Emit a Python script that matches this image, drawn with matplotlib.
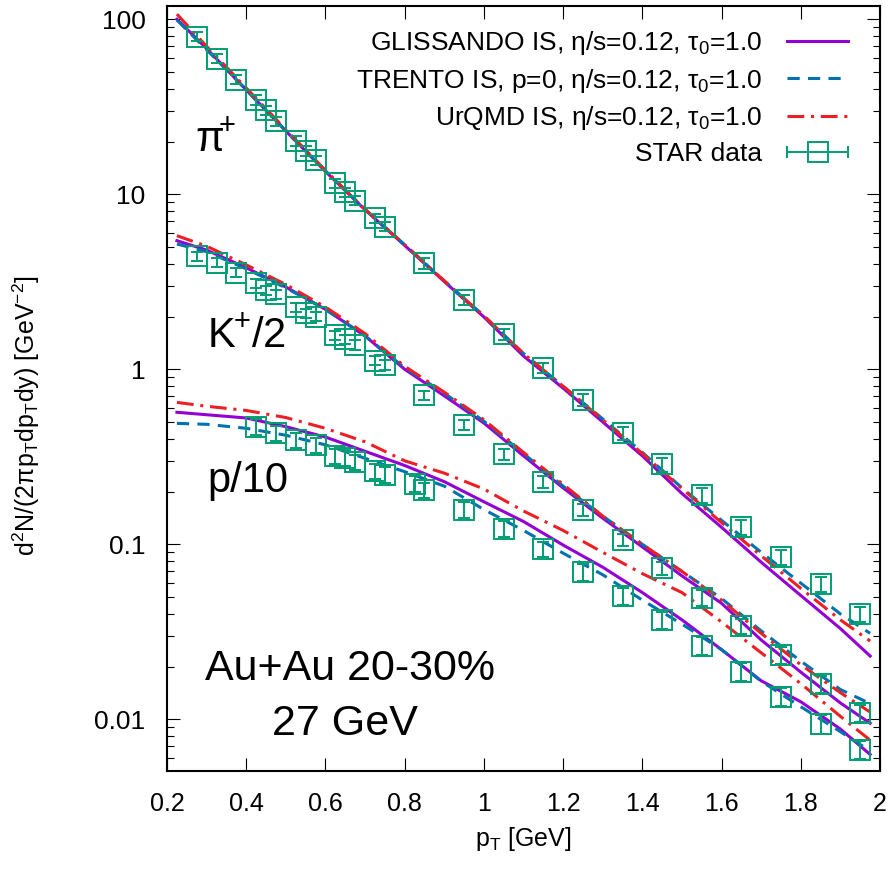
import matplotlib
matplotlib.use("Agg")
import matplotlib.pyplot as plt
from matplotlib.lines import Line2D
from matplotlib.legend_handler import HandlerBase
from matplotlib.ticker import FixedLocator, LogLocator, NullFormatter, NullLocator

plt.rcParams['font.family'] = ['Liberation Sans', 'DejaVu Sans']
plt.rcParams['mathtext.fontset'] = 'custom'
plt.rcParams['mathtext.rm'] = 'Liberation Sans'
plt.rcParams['mathtext.it'] = 'Liberation Sans:italic'
plt.rcParams['mathtext.bf'] = 'Liberation Sans:bold'

# STAR data (pions, kaons/2, protons/10)
pt_pi = [0.275, 0.325, 0.375, 0.425, 0.45, 0.475, 0.525, 0.55, 0.575, 0.625, 0.65, 0.675,
         0.725, 0.75, 0.85, 0.95, 1.05, 1.15, 1.25, 1.35, 1.45, 1.55, 1.65, 1.75, 1.85, 1.95]
y_pi = [79.6, 59.6, 45.2, 34.6, 30.3, 26.2, 20.2, 17.7, 15.6, 11.6, 10.3, 9.19,
        7.29, 6.53, 4.03, 2.49, 1.59, 1.02, 0.668, 0.431, 0.286, 0.191, 0.126, 0.0849, 0.059, 0.0398]
err_pi = [0.06, 0.06, 0.06, 0.06, 0.06, 0.06, 0.06, 0.06, 0.06, 0.06, 0.06, 0.06,
          0.06, 0.06, 0.07, 0.07, 0.07, 0.07, 0.08, 0.08, 0.09, 0.1, 0.1, 0.1, 0.1, 0.1]

pt_k = pt_pi
y_k = [4.44, 4.06, 3.56, 3.10, 2.84, 2.69, 2.26, 2.09, 2.0, 1.57, 1.48, 1.38,
       1.12, 1.06, 0.713, 0.481, 0.328, 0.228, 0.157, 0.106, 0.073, 0.0496, 0.0341, 0.0233, 0.0159, 0.0109]
err_k = [0.06, 0.06, 0.06, 0.06, 0.06, 0.06, 0.06, 0.06, 0.06, 0.06, 0.06, 0.06,
         0.06, 0.06, 0.06, 0.07, 0.07, 0.08, 0.08, 0.08, 0.09, 0.1, 0.1, 0.11, 0.11, 0.11]

pt_p = [0.425, 0.475, 0.525, 0.575, 0.625, 0.65, 0.675, 0.725, 0.75, 0.825, 0.85,
        0.95, 1.05, 1.15, 1.25, 1.35, 1.45, 1.55, 1.65, 1.75, 1.85, 1.95]
y_p = [0.47, 0.43, 0.394, 0.37, 0.32, 0.313, 0.295, 0.262, 0.25, 0.222, 0.205,
       0.158, 0.123, 0.0936, 0.0697, 0.0508, 0.0369, 0.0264, 0.0187, 0.0135, 0.0094, 0.0067]
err_p = [0.1, 0.1, 0.1, 0.1, 0.1, 0.1, 0.1, 0.1, 0.1, 0.1, 0.1,
         0.1, 0.1, 0.1, 0.11, 0.11, 0.11, 0.12, 0.12, 0.12, 0.12, 0.12]

# hydro model curves
pt_m = [0.225, 0.3, 0.4, 0.5, 0.6, 0.7, 0.8, 0.9, 1.0, 1.1, 1.2, 1.3, 1.4, 1.5, 1.6, 1.7, 1.8, 1.9, 1.975]

glis_pi = [100, 68, 39.5, 23, 13.5, 8.15, 5.1, 3.17, 1.99, 1.19, 0.78, 0.50, 0.32, 0.195, 0.125, 0.079, 0.051, 0.033, 0.023]
trento_pi = [99, 67, 39.5, 23, 13.6, 8.2, 5.15, 3.2, 2.02, 1.23, 0.8, 0.52, 0.335, 0.21, 0.137, 0.09, 0.06, 0.04, 0.031]
urqmd_pi = [107, 70, 40.5, 23.4, 13.7, 8.2, 5.15, 3.2, 2.02, 1.23, 0.8, 0.515, 0.33, 0.208, 0.133, 0.086, 0.056, 0.037, 0.028]

glis_k = [5.43, 4.8, 3.8, 2.95, 2.2, 1.55, 1.0, 0.705, 0.493, 0.32, 0.21, 0.141, 0.0966, 0.066, 0.046, 0.0284, 0.0186, 0.0124, 0.0095]
trento_k = [5.2, 4.7, 3.75, 2.92, 2.2, 1.55, 1.02, 0.73, 0.505, 0.33, 0.215, 0.145, 0.1, 0.07, 0.049, 0.032, 0.0215, 0.0148, 0.0123]
urqmd_k = [5.8, 5.05, 3.95, 3.05, 2.27, 1.6, 1.04, 0.74, 0.515, 0.335, 0.22, 0.145, 0.1, 0.07, 0.048, 0.031, 0.0205, 0.0142, 0.011]

glis_p = [0.568, 0.55, 0.527, 0.47, 0.41, 0.34, 0.282, 0.228, 0.175, 0.135, 0.099, 0.074, 0.053, 0.037, 0.025, 0.0166, 0.0126, 0.0088, 0.0063]
trento_p = [0.491, 0.485, 0.46, 0.42, 0.37, 0.31, 0.26, 0.215, 0.158, 0.12, 0.089, 0.067, 0.048, 0.035, 0.025, 0.0165, 0.0118, 0.0085, 0.0066]
urqmd_p = [0.647, 0.615, 0.582, 0.53, 0.46, 0.385, 0.30, 0.255, 0.207, 0.155, 0.12, 0.09, 0.068, 0.053, 0.036, 0.024, 0.016, 0.0104, 0.0076]

labels = ["GLISSANDO IS, η/s=0.12, τ$_0$=1.0",
          "TRENTO IS, p=0, η/s=0.12, τ$_0$=1.0",
          "UrQMD IS, η/s=0.12, τ$_0$=1.0",
          "STAR data"]

purple = '#9400d3'
blue = '#0072b2'
red = '#ec2024'
green = '#009e73'


class StarHandler(HandlerBase):
    # gnuplot style key sample: horizontal bar with caps and a box
    def create_artists(self, legend, orig_handle, xdescent, ydescent,
                       width, height, fontsize, trans):
        yc = height / 2 - ydescent
        x0 = -xdescent
        x1 = x0 + width
        bar = Line2D([x0, x1], [yc, yc], color=green, lw=1.4, transform=trans)
        caps = Line2D([x0, x1], [yc, yc], ls='none', marker='|', ms=9,
                      mew=1.4, color=green, transform=trans)
        box = Line2D([(x0 + x1) / 2], [yc], ls='none', marker='s', ms=14,
                     mfc='none', mec=green, mew=1.4, transform=trans)
        return [bar, caps, box]


fig = plt.figure(figsize=(8.96, 8.76), dpi=100)
ax = fig.add_axes([0.1864, 0.1199, 0.7958, 0.8733])

lw = 2.2
for glis, trento, urqmd in [(glis_pi, trento_pi, urqmd_pi),
                            (glis_k, trento_k, urqmd_k),
                            (glis_p, trento_p, urqmd_p)]:
    ax.plot(pt_m, glis, color=purple, lw=lw, zorder=3)
    ax.plot(pt_m, trento, color=blue, lw=lw, ls=(0, (4, 2.7)), zorder=3)
    ax.plot(pt_m, urqmd, color=red, lw=lw, ls=(0, (5.5, 2.2, 1, 2.2)), zorder=3)

for xs, ys, rel in [(pt_pi, y_pi, err_pi), (pt_k, y_k, err_k), (pt_p, y_p, err_p)]:
    yerr = [y * r for y, r in zip(ys, rel)]
    ax.errorbar(xs, ys, yerr=yerr, fmt='s', ms=14, mfc='none', mec=green,
                mew=1.4, ecolor=green, elinewidth=1.4, capsize=4.3,
                capthick=1.4, zorder=4)

handles = [Line2D([], [], color=purple, lw=lw),
           Line2D([], [], color=blue, lw=lw, ls=(0, (4, 2.7))),
           Line2D([], [], color=red, lw=lw, ls=(0, (5.5, 2.2, 1, 2.2))),
           Line2D([], [], color=green)]
ax.legend(handles, labels, handler_map={handles[3]: StarHandler()},
          loc='upper right', bbox_to_anchor=(0.955, 0.970), frameon=False,
          markerfirst=False, fontsize=19, handlelength=2.3,
          handletextpad=0.95, labelspacing=0.37, borderpad=0, borderaxespad=0)

ax.set_yscale('log')
ax.set_xlim(0.2, 2.0)
ax.set_ylim(10 ** -2.295, 10 ** 2.076)

ax.xaxis.set_major_locator(FixedLocator([0.2, 0.4, 0.6, 0.8, 1.0, 1.2, 1.4, 1.6, 1.8, 2.0]))
ax.set_xticklabels(['0.2', '0.4', '0.6', '0.8', '1', '1.2', '1.4', '1.6', '1.8', '2'])
ax.xaxis.set_minor_locator(NullLocator())
ax.yaxis.set_major_locator(FixedLocator([0.01, 0.1, 1, 10, 100]))
ax.set_yticklabels(['0.01', '0.1', '1', '10', '100'])
ax.yaxis.set_minor_locator(LogLocator(base=10, subs=[2, 3, 4, 5, 6, 7, 8, 9], numticks=20))
ax.yaxis.set_minor_formatter(NullFormatter())

ax.tick_params(which='both', direction='in', top=True, right=True, labelsize=18)
ax.tick_params(which='major', length=9.4, width=0.8, pad=15.5)
ax.tick_params(which='minor', length=5, width=0.8)
ax.tick_params(axis='y', which='major', labelsize=19)
for s in ax.spines.values():
    s.set_linewidth(1.5)

ax.set_xlabel('p$_\\mathrm{T}$ [GeV]', fontsize=18, labelpad=6)
ax.set_ylabel('d$^2$N/(2πp$_\\mathrm{T}$dp$_\\mathrm{T}$dy) [GeV$^{-2}$]', fontsize=18)
ax.yaxis.set_label_coords(-0.176, 0.465)

ax.text(0.271, 17.5, 'π$\\!^{+}$', fontsize=30, ha='left', va='baseline')
ax.text(0.301, 1.34, 'K$\\hspace{-0.06}^{+}$/2', fontsize=30, ha='left', va='baseline')
ax.text(0.301, 0.199, 'p/10', fontsize=30, ha='left', va='baseline')
ax.text(0.662, 0.0168, 'Au+Au 20-30%', fontsize=31, ha='center', va='baseline')
ax.text(0.65, 0.00813, '27 GeV', fontsize=31, ha='center', va='baseline')

fig.savefig('out.png', dpi=100)
